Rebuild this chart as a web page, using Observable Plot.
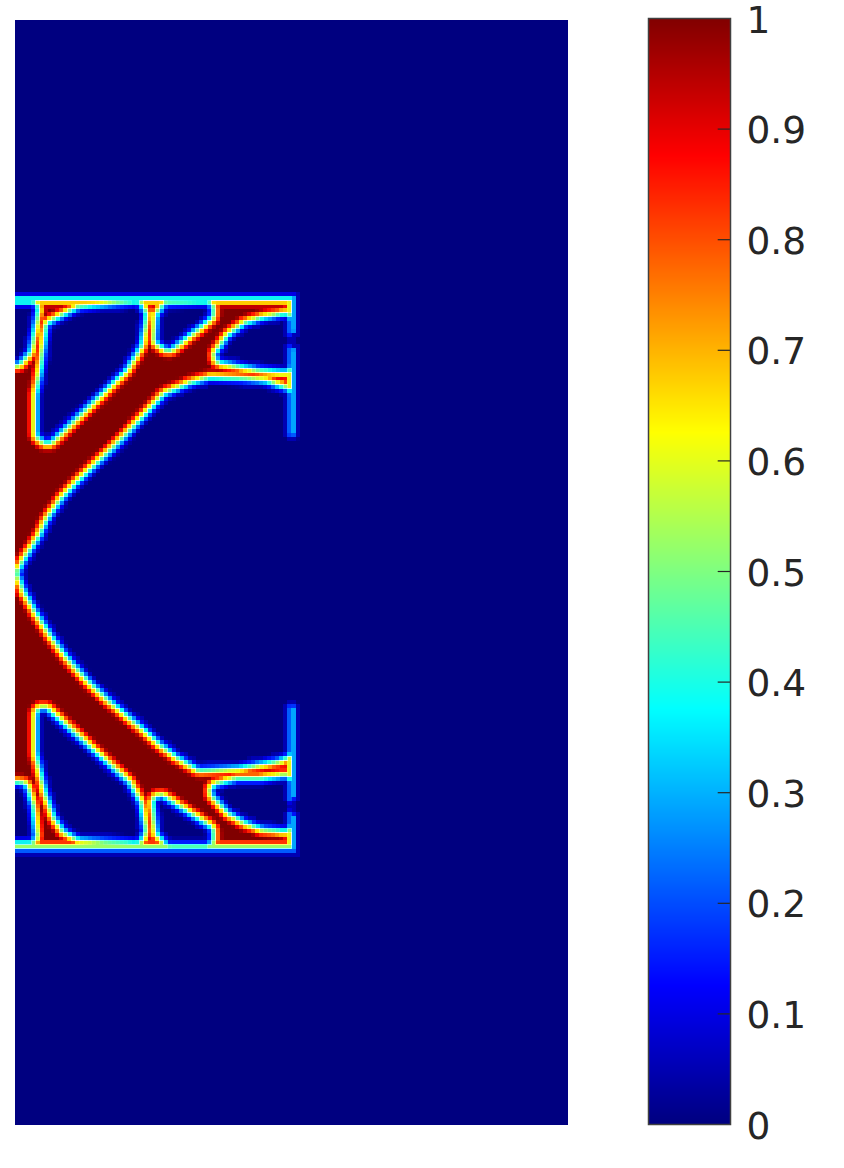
<!DOCTYPE html>
<html><head><meta charset="utf-8">
<script src="https://cdn.jsdelivr.net/npm/d3@7"></script>
<script src="https://cdn.jsdelivr.net/npm/@observablehq/plot@0.6"></script>
<style>html,body{margin:0;background:#fff}#c{position:relative;width:844px;height:1168px}#c svg{position:absolute;left:0;top:0;background:transparent;font-family:"DejaVu Sans";overflow:visible}</style>
</head><body><div id="c"></div>
<script>
// Colour map stops (jet)
const jetDomain = [0, 0.125, 0.375, 0.625, 0.875, 1];
const jetColors = ["#000080", "#0000ff", "#00ffff", "#ffff00", "#ff0000", "#800000"];
const colorTicks = [0, 0.1, 0.2, 0.3, 0.4, 0.5, 0.6, 0.7, 0.8, 0.9, 1];
// Density contours: how far each density lies from the nearest void
const levels  = [0.97,0.9,0.85,0.8,0.75,0.7,0.65,0.6,0.55,0.5,0.45,0.4,0.35,0.3,0.25,0.2,0.15,0.1,0.05,0];
const offsets = [16.5,15,14,13,12,11.5,11,10.2,9.6,9,8.4,7.6,7,6.5,5.8,5.2,4.5,3.6,2.5,0];
// Void outlines, in field units
const outside = [[-55,-55],[620,-55],[620,1170],[-55,1170],[-55,835],[284,835],[284,792],[278.5,790],[278.5,782],[284,780],[284,683],[276,681],[269,683],[269,730],[262,733],[222,740],[185,742],[165,730],[148,717],[135,705],[115,688],[97,673],[78,655],[58,633],[43,613],[28,590],[15,567],[10,553],[15,543],[30,520],[38,503],[52,483],[67,467],[85,450],[101,435],[116,420],[153,380],[177,370],[195,365],[225,366],[248,368],[269,375],[269,417],[276,420],[284,417],[284,326],[278.5,324],[278.5,316],[284,314],[284,271],[-55,271]];
const voidA = [[65,294],[120,289],[123,295],[119,322],[105,345],[32,415],[28,412],[28,375],[33,348],[38,308]];
const voidB = [[-25,289],[15,289],[8,328],[0,337],[-25,337]];
const voidC = [[153,290],[190,289],[190,293],[153,322],[147,318],[148,297]];
const voidD = [[207,335],[218,320],[232,310],[248,305],[269,301],[269,314],[273.5,320],[269,326],[269,344],[245,342]];
const voidA2 = [[28,695],[28,732],[37,770],[45,793],[53,805],[65,812],[120,815],[122,810],[118,785],[108,767]];
const voidB2 = [[-25,767],[5,770],[10,787],[13,815],[-25,815]];
const voidC2 = [[145,783],[190,812],[190,818],[155,818],[148,810]];
const voidD2 = [[203,771],[222,766],[245,766],[269,763],[269,780],[273.5,786],[269,792],[269,803],[248,801],[232,795],[218,787]];

const voids = {outside, voidA, voidB, voidC, voidD, voidA2, voidB2, voidC2, voidD2};
const rows = Object.entries(voids).flatMap(([ring, pts]) => pts.map(([x, y]) => ({ring, x, y})));
const color = {type: "linear", domain: jetDomain, range: jetColors, interpolate: "rgb"};

const field = Plot.plot({
  width: 569, height: 1127, marginLeft: 15, marginRight: 1, marginTop: 20, marginBottom: 1,
  x: {domain: [0, 553], axis: null},
  y: {domain: [0, 1106], reverse: true, axis: null},
  color,
  marks: [
    Plot.rect([{v: 1}], {x1: () => 0, x2: () => 553, y1: () => 0, y2: () => 1106, fill: "v"}),
    ...levels.map((v, i) => Plot.line(rows, {
      x: "x", y: "y", z: "ring", fill: () => v, stroke: () => v,
      strokeWidth: 2 * offsets[i], strokeLinejoin: "round", curve: "linear-closed", clip: true
    }))
  ]
});
// Cell mosaic of the field: sample one point per grid cell and grow it to the cell size
const NS = "http://www.w3.org/2000/svg";
const defs = document.createElementNS(NS, "defs");
defs.innerHTML = `<filter id="cells" filterUnits="userSpaceOnUse" x="15" y="20" width="553" height="1106" color-interpolation-filters="sRGB">
  <feFlood x="17" y="22" width="1" height="1" flood-color="#000"/>
  <feComposite x="15" y="20" width="4.61" height="4.61"/>
  <feTile x="15" y="20" width="553" height="1106" result="grid"/>
  <feComposite in="SourceGraphic" in2="grid" operator="in"/>
  <feMorphology operator="dilate" radius="2"/>
</filter>`;
const wrap = document.createElementNS(NS, "g");
wrap.setAttribute("filter", "url(#cells)");
[...field.children].filter(n => n.tagName !== "style").forEach(n => wrap.append(n));
field.append(defs, wrap);

const barStops = d3.range(0, 1, 1 / 1106);
const bar = Plot.plot({
  width: 844, height: 1168, marginLeft: 648, marginRight: 114, marginTop: 18, marginBottom: 44,
  x: {domain: [0, 1], axis: null},
  y: {domain: [0, 1], axis: null},
  color,
  marks: [
    Plot.rect(barStops, {x1: () => 0, x2: () => 1, y1: d => d, y2: d => d + 1 / 1106, fill: d => d, shapeRendering: "crispEdges"}),
    Plot.ruleY(colorTicks.slice(1, -1), {x1: () => 0.85, x2: () => 1, stroke: "#262626", strokeWidth: 1.2}),
    Plot.frame({stroke: "#404040", strokeWidth: 1.5}),
    Plot.axisY(colorTicks, {anchor: "right", tickSize: 0, tickPadding: 16, fontSize: 37.5, dy: 2, fill: "#262626", tickFormat: d => String(d), label: null})
  ]
});
document.getElementById("c").append(field, bar);
</script></body></html>
